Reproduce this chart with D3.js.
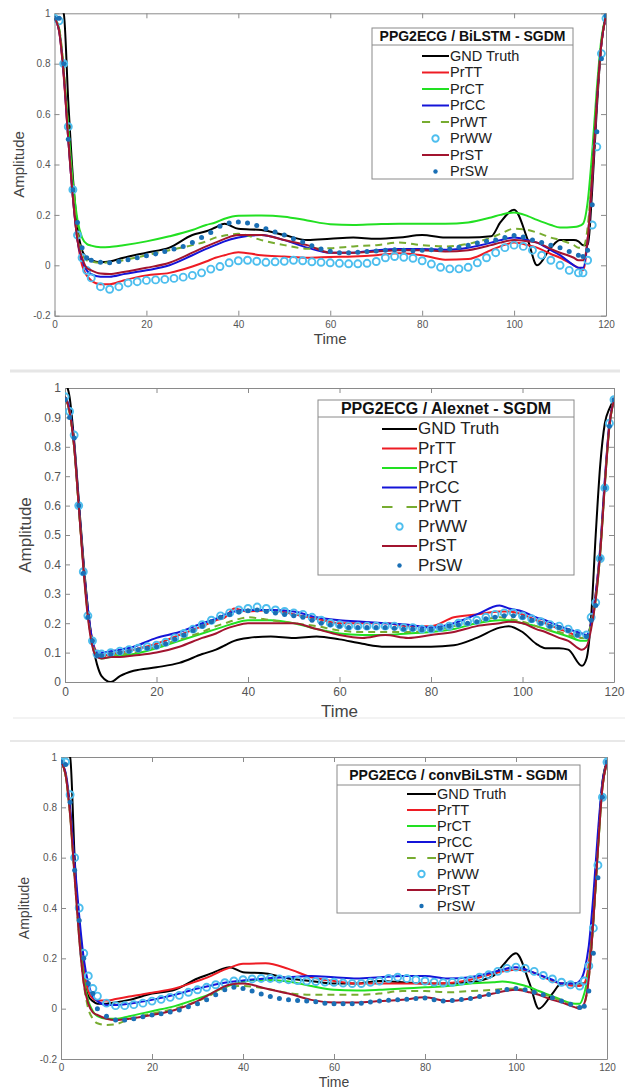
<!DOCTYPE html>
<html>
<head>
<meta charset="utf-8">
<script src="https://cdn.jsdelivr.net/npm/d3@7"></script>
<style>
  body { margin: 0; background: #fff; }
  svg { display: block; }
  text { font-family: "Liberation Sans", Arial, sans-serif; }
</style>
</head>
<body>
<svg id="chart" width="625" height="1091"></svg>
<script>
// Time grids (line series are read at the key points, marker series every 2 samples)
const timeLine = [0, 1, 2, 3, 4, 5, 6, 7, 8,
  10, 12, 15, 20, 25, 30, 33, 35, 37, 40,
  45, 50, 55, 60, 65, 70, 75, 80, 85, 90, 95,
  97, 100, 103, 105, 108, 110, 113, 114,
  115, 116, 117, 118, 119, 120];
const timeMark = [0, 1, 2, 3, 4, 5, 6, 7, 8,
  10, 12, 14, 16, 18, 20, 22, 24, 26, 28,
  30, 32, 34, 36, 38, 40, 42, 44, 46, 48,
  50, 52, 54, 56, 58, 60, 62, 64, 66, 68,
  70, 72, 74, 76, 78, 80, 82, 84, 86, 88,
  90, 92, 94, 96, 98, 100, 102, 104, 106, 108,
  110, 112, 114,
  115, 116, 117, 118, 119, 120];

const seriesNames = ['GND Truth', 'PrTT', 'PrCT', 'PrCC', 'PrWT', 'PrWW', 'PrST', 'PrSW'];
const xTicks = [0, 20, 40, 60, 80, 100, 120];
const yTicksWide = [-0.2, 0, 0.2, 0.4, 0.6, 0.8, 1];
const yTicksFine = [0, 0.1, 0.2, 0.3, 0.4, 0.5, 0.6, 0.7, 0.8, 0.9, 1];

// ---- Panel 1: BiLSTM ----
const bilstmGnd = [1.05, 1.02, 1.0, 0.65, 0.35, 0.15, 0.06, 0.03, 0.02,
  0.012, 0.015, 0.03, 0.05, 0.07, 0.12, 0.135, 0.15, 0.165, 0.145,
  0.14, 0.12, 0.1, 0.105, 0.11, 0.105, 0.11, 0.12, 0.11, 0.11, 0.115,
  0.17, 0.22, 0.1, 0.0, 0.07, 0.1, 0.1, 0.095,
  0.08, 0.08, 0.3, 0.62, 0.88, 0.99];
const bilstmTT = [0.98, 0.93, 0.75, 0.5, 0.27, 0.1, 0.0, -0.04, -0.06,
  -0.075, -0.075, -0.06, -0.04, -0.03, -0.005, 0.015, 0.03, 0.04, 0.052,
  0.04, 0.035, 0.03, 0.033, 0.035, 0.04, 0.048, 0.04, 0.022, 0.025, 0.06,
  0.075, 0.09, 0.08, 0.07, 0.045, 0.03, 0.0, -0.01,
  -0.02, 0.1, 0.35, 0.65, 0.88, 0.99];
const bilstmCT = [0.98, 0.94, 0.77, 0.55, 0.33, 0.18, 0.11, 0.085, 0.078,
  0.072, 0.073, 0.08, 0.095, 0.115, 0.14, 0.16, 0.17, 0.185, 0.197,
  0.198, 0.193, 0.178, 0.163, 0.16, 0.163, 0.165, 0.165, 0.165, 0.17, 0.19,
  0.2, 0.21, 0.195, 0.18, 0.16, 0.15, 0.152, 0.155,
  0.165, 0.25, 0.45, 0.7, 0.9, 0.99];
const bilstmCC = [0.98, 0.93, 0.76, 0.5, 0.27, 0.1, 0.02, -0.02, -0.035,
  -0.045, -0.045, -0.035, -0.02, 0.0, 0.04, 0.065, 0.08, 0.095, 0.11,
  0.12, 0.1, 0.07, 0.05, 0.05, 0.06, 0.065, 0.065, 0.062, 0.07, 0.09,
  0.1, 0.11, 0.1, 0.09, 0.06, 0.04, 0.0, -0.01,
  -0.01, 0.1, 0.35, 0.65, 0.88, 0.99];
const bilstmWT = [0.98, 0.94, 0.78, 0.52, 0.3, 0.13, 0.05, 0.02, 0.015,
  0.01, 0.012, 0.02, 0.04, 0.06, 0.08, 0.095, 0.11, 0.118, 0.125,
  0.1, 0.08, 0.066, 0.068, 0.075, 0.08, 0.09, 0.08, 0.075, 0.085, 0.11,
  0.125, 0.145, 0.14, 0.13, 0.11, 0.1, 0.08, 0.07,
  0.07, 0.15, 0.38, 0.66, 0.88, 0.99];
const bilstmST = [0.98, 0.93, 0.76, 0.5, 0.27, 0.1, 0.03, -0.01, -0.02,
  -0.033, -0.035, -0.027, -0.01, 0.01, 0.05, 0.075, 0.09, 0.105, 0.12,
  0.12, 0.1, 0.08, 0.05, 0.05, 0.055, 0.06, 0.06, 0.055, 0.06, 0.08,
  0.09, 0.1, 0.095, 0.09, 0.065, 0.05, 0.03, 0.02,
  0.02, 0.1, 0.35, 0.65, 0.88, 0.99];
const bilstmWW = [0.98, 0.97, 0.8, 0.55, 0.3, 0.12, 0.03, -0.02, -0.05,
  -0.085, -0.095, -0.085, -0.07, -0.065, -0.06, -0.058, -0.056, -0.052, -0.047,
  -0.04, -0.03, -0.015, -0.005, 0.01, 0.018, 0.02, 0.016, 0.012, 0.014,
  0.016, 0.02, 0.018, 0.014, 0.012, 0.01, 0.008, 0.006, 0.006, 0.008,
  0.015, 0.03, 0.035, 0.032, 0.028, 0.018, 0.005, -0.008, -0.014, -0.014,
  -0.008, 0.01, 0.03, 0.05, 0.07, 0.08, 0.075, 0.06, 0.04, 0.02,
  0.0, -0.02, -0.03,
  -0.03, 0.02, 0.16, 0.47, 0.84, 0.98];
const bilstmSW = [0.98, 0.98, 0.8, 0.5, 0.3, 0.17, 0.07, 0.03, 0.02,
  0.012, 0.01, 0.015, 0.022, 0.03, 0.038, 0.045, 0.055, 0.065, 0.075,
  0.09, 0.11, 0.13, 0.155, 0.168, 0.172, 0.168, 0.158, 0.145, 0.132,
  0.12, 0.105, 0.092, 0.078, 0.065, 0.056, 0.05, 0.05, 0.052, 0.055,
  0.057, 0.06, 0.062, 0.06, 0.058, 0.06, 0.062, 0.063, 0.065, 0.072,
  0.08, 0.088, 0.095, 0.1, 0.11, 0.118, 0.112, 0.1, 0.09, 0.08,
  0.07, 0.055, 0.04,
  0.035, 0.06, 0.24, 0.53, 0.82, 0.99];

// ---- Panel 2: Alexnet ----
const alexGnd = [1.02, 0.97, 0.82, 0.62, 0.42, 0.25, 0.13, 0.06, 0.02,
  0.0, 0.02, 0.038, 0.05, 0.065, 0.095, 0.11, 0.125, 0.14, 0.15,
  0.155, 0.15, 0.155, 0.145, 0.13, 0.12, 0.12, 0.12, 0.125, 0.15, 0.185,
  0.19, 0.17, 0.13, 0.115, 0.115, 0.11, 0.055, 0.08,
  0.22, 0.5, 0.74, 0.88, 0.93, 0.96];
const alexTT = [0.97, 0.92, 0.8, 0.6, 0.4, 0.24, 0.14, 0.1, 0.09,
  0.095, 0.1, 0.11, 0.13, 0.16, 0.19, 0.21, 0.22, 0.25, 0.24,
  0.245, 0.23, 0.215, 0.2, 0.2, 0.2, 0.19, 0.19, 0.22, 0.23, 0.24,
  0.24, 0.23, 0.21, 0.2, 0.18, 0.17, 0.15, 0.15,
  0.2, 0.3, 0.45, 0.68, 0.88, 0.96];
const alexCT = [0.97, 0.92, 0.8, 0.6, 0.4, 0.23, 0.13, 0.09, 0.08,
  0.085, 0.09, 0.095, 0.115, 0.14, 0.165, 0.18, 0.19, 0.2, 0.21,
  0.21, 0.2, 0.18, 0.165, 0.16, 0.16, 0.165, 0.17, 0.18, 0.2, 0.21,
  0.21, 0.2, 0.19, 0.18, 0.165, 0.155, 0.14, 0.14,
  0.19, 0.28, 0.44, 0.67, 0.87, 0.96];
const alexCC = [0.97, 0.93, 0.81, 0.61, 0.41, 0.25, 0.14, 0.1, 0.1,
  0.105, 0.11, 0.12, 0.15, 0.17, 0.2, 0.215, 0.23, 0.24, 0.245,
  0.245, 0.24, 0.22, 0.21, 0.205, 0.2, 0.195, 0.185, 0.2, 0.23, 0.26,
  0.25, 0.24, 0.22, 0.21, 0.19, 0.18, 0.165, 0.16,
  0.2, 0.3, 0.46, 0.69, 0.88, 0.96];
const alexWT = [0.97, 0.92, 0.8, 0.6, 0.4, 0.23, 0.13, 0.09, 0.085,
  0.09, 0.095, 0.1, 0.12, 0.145, 0.17, 0.19, 0.2, 0.21, 0.22,
  0.21, 0.2, 0.19, 0.175, 0.17, 0.17, 0.17, 0.175, 0.19, 0.205, 0.22,
  0.215, 0.205, 0.19, 0.18, 0.17, 0.16, 0.15, 0.15,
  0.2, 0.29, 0.45, 0.68, 0.87, 0.96];
const alexST = [0.97, 0.92, 0.8, 0.6, 0.39, 0.22, 0.12, 0.085, 0.08,
  0.085, 0.085, 0.09, 0.1, 0.12, 0.15, 0.165, 0.18, 0.19, 0.2,
  0.2, 0.2, 0.18, 0.16, 0.15, 0.16, 0.15, 0.16, 0.17, 0.19, 0.2,
  0.205, 0.2, 0.18, 0.17, 0.15, 0.14, 0.11, 0.12,
  0.18, 0.28, 0.44, 0.67, 0.87, 0.96];
const alexWW = [0.97, 0.92, 0.84, 0.6, 0.375, 0.225, 0.14, 0.095, 0.095,
  0.1, 0.105, 0.11, 0.115, 0.12, 0.125, 0.135, 0.15, 0.165, 0.18,
  0.195, 0.21, 0.225, 0.235, 0.245, 0.25, 0.255, 0.25, 0.245, 0.24,
  0.235, 0.23, 0.22, 0.21, 0.2, 0.195, 0.19, 0.19, 0.19, 0.19,
  0.19, 0.19, 0.185, 0.185, 0.18, 0.18, 0.185, 0.19, 0.2, 0.205,
  0.21, 0.22, 0.23, 0.235, 0.235, 0.225, 0.215, 0.205, 0.195, 0.19,
  0.18, 0.165, 0.16,
  0.22, 0.27, 0.42, 0.66, 0.88, 0.96];
const alexSW = [0.96, 0.9, 0.83, 0.6, 0.37, 0.22, 0.14, 0.09, 0.09,
  0.095, 0.1, 0.105, 0.11, 0.115, 0.12, 0.13, 0.145, 0.16, 0.175,
  0.19, 0.205, 0.22, 0.23, 0.238, 0.242, 0.245, 0.24, 0.235, 0.23,
  0.225, 0.22, 0.21, 0.2, 0.195, 0.19, 0.185, 0.185, 0.185, 0.185,
  0.185, 0.183, 0.18, 0.18, 0.178, 0.178, 0.183, 0.19, 0.195, 0.2,
  0.205, 0.215, 0.22, 0.225, 0.225, 0.22, 0.21, 0.2, 0.19, 0.185,
  0.175, 0.16, 0.155,
  0.21, 0.26, 0.42, 0.66, 0.87, 0.96];

// ---- Panel 3: convBiLSTM ----
const convGnd = [1.05, 1.02, 1.0, 0.6, 0.3, 0.12, 0.05, 0.03, 0.02,
  0.02, 0.025, 0.035, 0.06, 0.075, 0.12, 0.14, 0.155, 0.165, 0.145,
  0.14, 0.12, 0.11, 0.1, 0.1, 0.11, 0.105, 0.1, 0.1, 0.105, 0.13,
  0.17, 0.22, 0.1, 0.0, 0.06, 0.1, 0.1, 0.1,
  0.1, 0.15, 0.35, 0.65, 0.9, 0.98];
const convTT = [0.98, 0.93, 0.78, 0.55, 0.33, 0.16, 0.07, 0.04, 0.032,
  0.032, 0.038, 0.048, 0.063, 0.08, 0.11, 0.13, 0.148, 0.162, 0.178,
  0.18, 0.158, 0.125, 0.11, 0.1, 0.1, 0.1, 0.1, 0.102, 0.115, 0.14,
  0.148, 0.155, 0.148, 0.135, 0.11, 0.1, 0.09, 0.09,
  0.1, 0.18, 0.38, 0.65, 0.88, 0.98];
const convCT = [0.98, 0.93, 0.78, 0.53, 0.3, 0.12, 0.03, -0.01, -0.03,
  -0.04, -0.04, -0.03, -0.01, 0.01, 0.04, 0.06, 0.078, 0.092, 0.108,
  0.115, 0.108, 0.09, 0.075, 0.072, 0.075, 0.08, 0.085, 0.09, 0.1, 0.105,
  0.108, 0.1, 0.085, 0.07, 0.05, 0.035, 0.02, 0.02,
  0.06, 0.15, 0.35, 0.63, 0.88, 0.98];
const convCC = [0.98, 0.94, 0.8, 0.58, 0.37, 0.2, 0.1, 0.05, 0.03,
  0.015, 0.015, 0.02, 0.035, 0.055, 0.08, 0.092, 0.1, 0.106, 0.112,
  0.12, 0.125, 0.13, 0.125, 0.12, 0.125, 0.13, 0.13, 0.12, 0.125, 0.145,
  0.155, 0.165, 0.15, 0.135, 0.115, 0.1, 0.1, 0.11,
  0.15, 0.25, 0.45, 0.7, 0.9, 0.98];
const convWT = [0.98, 0.93, 0.77, 0.52, 0.28, 0.1, 0.0, -0.04, -0.058,
  -0.065, -0.062, -0.042, -0.02, 0.0, 0.03, 0.055, 0.075, 0.088, 0.09,
  0.08, 0.062, 0.055, 0.055, 0.055, 0.06, 0.07, 0.07, 0.065, 0.07, 0.075,
  0.078, 0.08, 0.07, 0.062, 0.045, 0.03, 0.01, 0.005,
  0.02, 0.12, 0.35, 0.63, 0.88, 0.98];
const convST = [0.98, 0.93, 0.77, 0.52, 0.28, 0.1, 0.02, -0.015, -0.025,
  -0.04, -0.045, -0.04, -0.025, -0.005, 0.03, 0.06, 0.08, 0.095, 0.1,
  0.08, 0.06, 0.035, 0.025, 0.025, 0.03, 0.035, 0.045, 0.03, 0.04, 0.06,
  0.068, 0.075, 0.065, 0.055, 0.035, 0.025, 0.005, 0.0,
  0.02, 0.12, 0.35, 0.63, 0.88, 0.98];
const convWW = [0.98, 0.98, 0.85, 0.6, 0.4, 0.22, 0.13, 0.08, 0.05,
  0.022, 0.012, 0.012, 0.016, 0.022, 0.03, 0.037, 0.045, 0.053, 0.065,
  0.075, 0.085, 0.095, 0.103, 0.11, 0.115, 0.118, 0.12, 0.12, 0.118,
  0.115, 0.112, 0.11, 0.108, 0.106, 0.105, 0.102, 0.1, 0.1, 0.105,
  0.11, 0.12, 0.125, 0.12, 0.115, 0.11, 0.105, 0.103, 0.105, 0.11,
  0.115, 0.125, 0.135, 0.148, 0.16, 0.165, 0.16, 0.148, 0.132, 0.118,
  0.105, 0.095, 0.09,
  0.11, 0.17, 0.32, 0.57, 0.84, 0.98];
const convSW = [0.98, 0.97, 0.82, 0.55, 0.35, 0.2, 0.1, 0.06, 0.0,
  -0.03, -0.045, -0.045, -0.04, -0.032, -0.025, -0.02, -0.013, -0.005, 0.008,
  0.02, 0.035, 0.055, 0.075, 0.085, 0.08, 0.07, 0.058, 0.048, 0.04,
  0.035, 0.032, 0.03, 0.027, 0.022, 0.02, 0.02, 0.02, 0.022, 0.026,
  0.03, 0.033, 0.035, 0.037, 0.04, 0.042, 0.035, 0.03, 0.032, 0.036,
  0.04, 0.048, 0.056, 0.068, 0.076, 0.08, 0.075, 0.065, 0.055, 0.043,
  0.03, 0.018, 0.005,
  0.01, 0.07, 0.22, 0.52, 0.84, 0.98];

// Styles per series (MATLAB-like colours)
const seriesStyle = {
  'GND Truth': {kind: 'line', color: '#000000', width: 2},
  PrTT: {kind: 'line', color: '#ee1c24', width: 2},
  PrCT: {kind: 'line', color: '#22e022', width: 2},
  PrCC: {kind: 'line', color: '#1414d8', width: 2},
  PrWT: {kind: 'dash', color: '#77ac30', width: 2},
  PrWW: {kind: 'circle', color: '#4dbeee', width: 1.9},
  PrST: {kind: 'line', color: '#a2142f', width: 2},
  PrSW: {kind: 'dot', color: '#1a6fb5', width: 0},
};

const panels = [
  {
    title: 'PPG2ECG / BiLSTM - SGDM',
    x0: 54.5, x1: 606, y0: 13.3, y1: 315.7,
    yDomain: [-0.2, 1], yTicks: yTicksWide,
    tickFont: 10, labelFont: 15, timeY: 340, ampX: 20,
    legend: {x: 372, y: 28, w: 201, h: 151, titleH: 17, row0: 56, step: 16.5, s0: 422, s1: 449, titleFont: 14, font: 14.5},
    values: [bilstmGnd, bilstmTT, bilstmCT, bilstmCC, bilstmWT, bilstmWW, bilstmST, bilstmSW],
  },
  {
    title: 'PPG2ECG / Alexnet - SGDM',
    x0: 65, x1: 614, y0: 388, y1: 682,
    yDomain: [0, 1], yTicks: yTicksFine,
    tickFont: 12, labelFont: 17, timeY: 713, ampX: 27,
    legend: {x: 318, y: 400, w: 256, h: 175, titleH: 17, row0: 429, step: 19.5, s0: 382, s1: 417, titleFont: 16, font: 17},
    values: [alexGnd, alexTT, alexCT, alexCC, alexWT, alexWW, alexST, alexSW],
  },
  {
    title: 'PPG2ECG / convBiLSTM - SGDM',
    x0: 61, x1: 607, y0: 757, y1: 1059,
    yDomain: [-0.2, 1], yTicks: yTicksWide,
    tickFont: 10, labelFont: 14, timeY: 1083, ampX: 25,
    legend: {x: 337, y: 765, w: 243, h: 148, titleH: 20, row0: 794, step: 16, s0: 407, s1: 436, titleFont: 14, font: 14.5},
    values: [convGnd, convTT, convCT, convCC, convWT, convWW, convST, convSW],
  },
];

const svg = d3.select('#chart');

// Faint separators between the stacked screenshots
[{y: 371, x0: 10, x1: 620, w: 3, c: '#e6e6e6'},
  {y: 718, x0: 13, x1: 625, w: 1.5, c: '#efefef'},
  {y: 741, x0: 10, x1: 625, w: 2, c: '#e8e8e8'}].forEach((sep) => {
  svg.append('line')
    .attr('x1', sep.x0).attr('x2', sep.x1)
    .attr('y1', sep.y).attr('y2', sep.y)
    .attr('stroke', sep.c).attr('stroke-width', sep.w);
});

const fmt = (d) => { return String(+d.toFixed(1)); };

panels.forEach((panel, pi) => {
  const x = d3.scaleLinear().domain([0, 120]).range([panel.x0, panel.x1]);
  const y = d3.scaleLinear().domain(panel.yDomain).range([panel.y1, panel.y0]);
  const g = svg.append('g').attr('class', `panel p${pi}`);

  // Clip
  g.append('clipPath').attr('id', `clip${pi}`)
    .append('rect')
    .attr('x', panel.x0).attr('y', panel.y0)
    .attr('width', panel.x1 - panel.x0).attr('height', panel.y1 - panel.y0);

  // Axes (box with inward ticks, MATLAB style)
  const axisStyle = (sel) => {
    sel.select('.domain').attr('stroke', '#8a8a8a').attr('stroke-width', 1);
    sel.selectAll('.tick line').attr('stroke', '#8a8a8a');
    sel.selectAll('.tick text')
      .attr('fill', '#555')
      .style('font-size', `${panel.tickFont}px`)
      .style('font-family', '"Liberation Sans", Arial, sans-serif');
  };
  g.append('g')
    .attr('transform', `translate(0,${panel.y1})`)
    .call(d3.axisBottom(x).tickValues(xTicks).tickSizeInner(-5).tickSizeOuter(0).tickPadding(5))
    .call(axisStyle);
  g.append('g')
    .attr('transform', `translate(0,${panel.y0})`)
    .call(d3.axisTop(x).tickValues(xTicks).tickSizeInner(-5).tickSizeOuter(0).tickFormat(''))
    .call(axisStyle);
  g.append('g')
    .attr('transform', `translate(${panel.x0},0)`)
    .call(d3.axisLeft(y).tickValues(panel.yTicks).tickFormat(fmt).tickSizeInner(-5).tickSizeOuter(0).tickPadding(4))
    .call(axisStyle);
  g.append('g')
    .attr('transform', `translate(${panel.x1},0)`)
    .call(d3.axisRight(y).tickValues(panel.yTicks).tickSizeInner(-5).tickSizeOuter(0).tickFormat(''))
    .call(axisStyle);

  // Axis labels
  g.append('text')
    .attr('x', (panel.x0 + panel.x1) / 2).attr('y', panel.timeY)
    .attr('text-anchor', 'middle').attr('dominant-baseline', 'middle')
    .attr('fill', '#444').style('font-size', `${panel.labelFont}px`)
    .text('Time');
  g.append('text')
    .attr('transform', `translate(${panel.ampX},${(panel.y0 + panel.y1) / 2}) rotate(-90)`)
    .attr('text-anchor', 'middle').attr('dominant-baseline', 'middle')
    .attr('fill', '#444').style('font-size', `${panel.labelFont}px`)
    .text('Amplitude');

  // Series
  const plot = g.append('g').attr('clip-path', `url(#clip${pi})`);
  const line = d3.line()
    .x((d) => { return x(d[0]); })
    .y((d) => { return y(d[1]); })
    .curve(d3.curveMonotoneX);

  seriesNames.forEach((name, si) => {
    const style = seriesStyle[name];
    const vals = panel.values[si];
    if (style.kind === 'line' || style.kind === 'dash') {
      const pts = timeLine.map((t, i) => { return [t, vals[i]]; });
      plot.append('path')
        .attr('d', line(pts))
        .attr('fill', 'none')
        .attr('stroke', style.color)
        .attr('stroke-width', style.width)
        .attr('stroke-linejoin', 'round')
        .attr('stroke-dasharray', style.kind === 'dash' ? '7,5' : null);
    } else {
      const pts = timeMark.map((t, i) => { return [t, vals[i]]; });
      const mk = plot.append('g').attr('class', name);
      if (style.kind === 'circle') {
        mk.selectAll('circle').data(pts).join('circle')
          .attr('cx', (d) => { return x(d[0]); })
          .attr('cy', (d) => { return y(d[1]); })
          .attr('r', 3.5)
          .attr('fill', 'none')
          .attr('stroke', style.color)
          .attr('stroke-width', style.width);
      } else {
        mk.selectAll('circle').data(pts).join('circle')
          .attr('cx', (d) => { return x(d[0]); })
          .attr('cy', (d) => { return y(d[1]); })
          .attr('r', 2.5)
          .attr('fill', style.color);
      }
    }
  });

  // Legend
  const lg = panel.legend;
  const leg = g.append('g').attr('class', 'legend');
  leg.append('rect')
    .attr('x', lg.x).attr('y', lg.y).attr('width', lg.w).attr('height', lg.h)
    .attr('fill', '#fff').attr('stroke', '#8a8a8a').attr('stroke-width', 1);
  leg.append('line')
    .attr('x1', lg.x).attr('x2', lg.x + lg.w)
    .attr('y1', lg.y + lg.titleH).attr('y2', lg.y + lg.titleH)
    .attr('stroke', '#8a8a8a');
  leg.append('text')
    .attr('x', lg.x + lg.w / 2).attr('y', lg.y + lg.titleH / 2 + 1)
    .attr('text-anchor', 'middle').attr('dominant-baseline', 'middle')
    .attr('fill', '#111').attr('font-weight', 'bold')
    .style('font-size', `${lg.titleFont}px`)
    .text(panel.title);

  seriesNames.forEach((name, si) => {
    const style = seriesStyle[name];
    const ry = lg.row0 + si * lg.step;
    const cx = (lg.s0 + lg.s1) / 2;
    if (style.kind === 'line') {
      leg.append('line')
        .attr('x1', lg.s0).attr('x2', lg.s1).attr('y1', ry).attr('y2', ry)
        .attr('stroke', style.color).attr('stroke-width', style.width);
    } else if (style.kind === 'dash') {
      const seg = (lg.s1 - lg.s0) * 0.3;
      leg.append('line')
        .attr('x1', lg.s0).attr('x2', lg.s1).attr('y1', ry).attr('y2', ry)
        .attr('stroke', style.color).attr('stroke-width', style.width)
        .attr('stroke-dasharray', `${seg},${lg.s1 - lg.s0 - 2 * seg}`);
    } else if (style.kind === 'circle') {
      leg.append('circle').attr('cx', cx).attr('cy', ry).attr('r', 3.2)
        .attr('fill', 'none').attr('stroke', style.color).attr('stroke-width', style.width);
    } else {
      leg.append('circle').attr('cx', cx).attr('cy', ry).attr('r', 2.2)
        .attr('fill', style.color);
    }
    leg.append('text')
      .attr('x', lg.s1 + 1).attr('y', ry + 1)
      .attr('dominant-baseline', 'middle')
      .attr('fill', '#222')
      .style('font-size', `${lg.font}px`)
      .text(name);
  });
});
</script>
</body>
</html>
